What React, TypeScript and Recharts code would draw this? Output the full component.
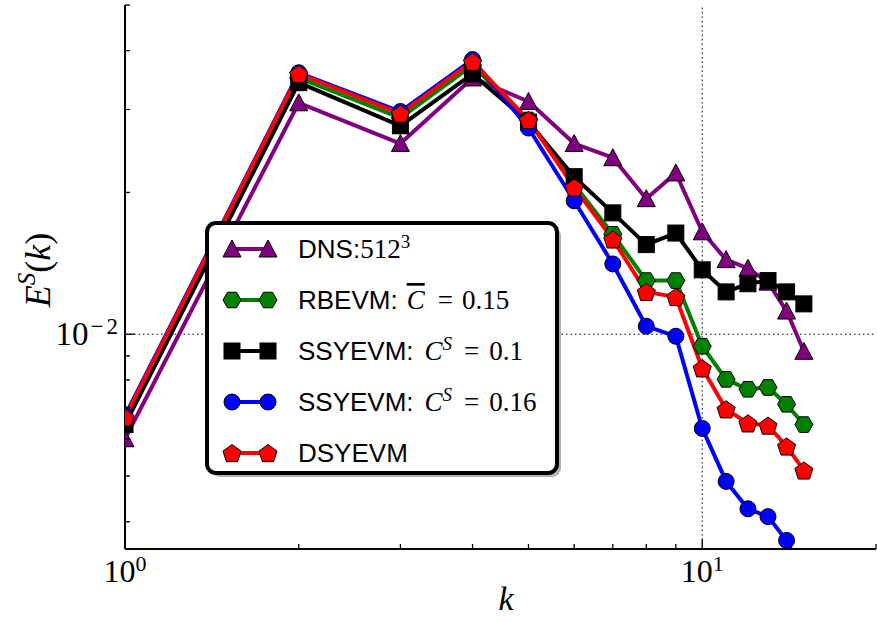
import { LineChart, Line, XAxis, YAxis, ReferenceLine, Legend } from 'recharts';

// wavenumbers
const ks = [1, 2, 3, 4, 5, 6, 7, 8, 9, 10, 11, 12, 13, 14, 15];

// spectra
const dns = [0.006, 0.031, 0.0254, 0.035, 0.0312, 0.0254, 0.0237, 0.0194, 0.022, 0.0165, 0.0144, 0.0138, 0.0129, 0.0112, 0.0092];
const rbevm = [0.00659, 0.035, 0.0288, 0.0372, 0.0285, 0.0208, 0.0163, 0.013, 0.013, 0.00943, 0.00802, 0.00764, 0.00771, 0.0071, 0.00643];
const ssyevm010 = [0.00643, 0.0342, 0.0277, 0.0357, 0.0282, 0.0216, 0.0181, 0.0155, 0.0164, 0.0137, 0.0123, 0.0128, 0.013, 0.0123, 0.0116];
const ssyevm016 = [0.00672, 0.0359, 0.0297, 0.0383, 0.0274, 0.0192, 0.0141, 0.0104, 0.0099, 0.00631, 0.00487, 0.00426, 0.0041, 0.00365, 0.0031];
const dsyevm = [0.00666, 0.0357, 0.0294, 0.0379, 0.0285, 0.0205, 0.0159, 0.0123, 0.012, 0.00847, 0.00693, 0.00647, 0.0064, 0.00578, 0.00514];

const xTicks = [1, 2, 3, 4, 5, 6, 7, 8, 9, 10, 20];
const yTicks = [0.004, 0.005, 0.006, 0.007, 0.008, 0.009, 0.01, 0.02, 0.03, 0.04, 0.05];

type Shape = 'triangle' | 'hexagon' | 'square' | 'circle' | 'pentagon';

const series: { key: string; color: string; shape: Shape }[] = [
  { key: 'dns', color: '#800080', shape: 'triangle' },
  { key: 'rbevm', color: '#008000', shape: 'hexagon' },
  { key: 'ssyevm010', color: '#000000', shape: 'square' },
  { key: 'ssyevm016', color: '#0000ff', shape: 'circle' },
  { key: 'dsyevm', color: '#ff0000', shape: 'pentagon' },
];

const data = ks.map((k, i) => ({
  k,
  dns: dns[i],
  rbevm: rbevm[i],
  ssyevm010: ssyevm010[i],
  ssyevm016: ssyevm016[i],
  dsyevm: dsyevm[i],
}));

const SERIF = '"Liberation Serif", "DejaVu Serif", serif';
const SANS = '"Liberation Sans", Arial, sans-serif';

function regular(cx: number, cy: number, r: number, n: number, rot: number) {
  const pts: string[] = [];
  for (let i = 0; i < n; i++) {
    const a = ((rot + (360 / n) * i) * Math.PI) / 180;
    pts.push(`${cx + r * Math.cos(a)},${cy + r * Math.sin(a)}`);
  }
  return pts.join(' ');
}

function Marker({ shape, cx, cy, fill }: { shape: Shape; cx: number; cy: number; fill: string }) {
  const common = { fill, stroke: '#000', strokeWidth: 1 };
  switch (shape) {
    case 'triangle':
      return <polygon points={`${cx},${cy - 9} ${cx - 9},${cy + 8} ${cx + 9},${cy + 8}`} {...common} />;
    case 'hexagon':
      return <polygon points={regular(cx, cy, 9, 6, 0)} {...common} />;
    case 'square':
      return <rect x={cx - 8} y={cy - 8} width={16} height={16} {...common} />;
    case 'circle':
      return <circle cx={cx} cy={cy} r={8} {...common} />;
    default:
      return <polygon points={regular(cx, cy + 1, 9.5, 5, -90)} {...common} />;
  }
}

const XTick = (props: any) => {
  const { x, y, payload } = props;
  const v = payload.value;
  const major = v === 1 || v === 10;
  return (
    <g>
      <line x1={x} x2={x} y1={y} y2={y - (major ? 10 : 5)} stroke="#000" strokeWidth={1.3} />
      {major && (
        <text x={x} y={y + 33} textAnchor="middle" fontFamily={SERIF} fontSize={32} fill="#000">
          10
          <tspan dy={-11} fontSize={22}>
            {v === 1 ? '0' : '1'}
          </tspan>
        </text>
      )}
    </g>
  );
};

const XTopTick = (props: any) => {
  const { x, y, payload } = props;
  const major = payload.value === 1 || payload.value === 10;
  return <line x1={x} x2={x} y1={y} y2={y + (major ? 10 : 5)} stroke="#000" strokeWidth={1.3} />;
};

const YTick = (props: any) => {
  const { x, y, payload } = props;
  const major = payload.value === 0.01;
  return (
    <g>
      <line x1={x} x2={x + (major ? 10 : 5)} y1={y} y2={y} stroke="#000" strokeWidth={1.3} />
      {major && (
        <text x={x - 7} y={y + 11} textAnchor="end" fontFamily={SERIF} fontSize={33} fill="#000">
          10
          <tspan dy={-11} dx={2} fontSize={23}>
            −
          </tspan>
          <tspan dx={3} fontSize={23}>
            2
          </tspan>
        </text>
      )}
    </g>
  );
};

const YRightTick = (props: any) => {
  const { x, y, payload } = props;
  const major = payload.value === 0.01;
  return <line x1={x} x2={x - (major ? 10 : 5)} y1={y} y2={y} stroke="#000" strokeWidth={1.3} />;
};

const XTitle = () => (
  <text x={506} y={610} textAnchor="middle" fontFamily={SERIF} fontStyle="italic" fontSize={34} fill="#000">
    k
  </text>
);

const YTitle = () => (
  <text
    x={38}
    y={270}
    transform="rotate(-90 38 270)"
    textAnchor="middle"
    dominantBaseline="central"
    fontFamily={SERIF}
    fontSize={36}
    fill="#000"
  >
    <tspan fontStyle="italic">E</tspan>
    <tspan dy={-12} fontSize={25} fontStyle="italic">
      S
    </tspan>
    <tspan dy={12}>(</tspan>
    <tspan fontStyle="italic">k</tspan>
    <tspan>)</tspan>
  </text>
);

const labels = [
  <>
    <tspan fontFamily={SANS}>DNS:</tspan>
    <tspan fontFamily={SERIF} fontSize={27}>512</tspan>
    <tspan fontFamily={SERIF} fontSize={19} dy={-10}>3</tspan>
  </>,
  <>
    <tspan fontFamily={SANS}>RBEVM:</tspan>
    <tspan dx={9} fontFamily={SERIF} fontSize={27} fontStyle="italic" textDecoration="overline">C</tspan>
    <tspan dx={13} fontFamily={SERIF} fontSize={27}>=</tspan>
    <tspan dx={9} fontFamily={SERIF} fontSize={27}>0.15</tspan>
  </>,
  <>
    <tspan fontFamily={SANS}>SSYEVM:</tspan>
    <tspan dx={11} fontFamily={SERIF} fontSize={27} fontStyle="italic">C</tspan>
    <tspan fontFamily={SERIF} fontSize={19} fontStyle="italic" dy={-10}>S</tspan>
    <tspan dx={12} fontFamily={SERIF} fontSize={27} dy={10}>=</tspan>
    <tspan dx={10} fontFamily={SERIF} fontSize={27}>0.1</tspan>
  </>,
  <>
    <tspan fontFamily={SANS}>SSYEVM:</tspan>
    <tspan dx={11} fontFamily={SERIF} fontSize={27} fontStyle="italic">C</tspan>
    <tspan fontFamily={SERIF} fontSize={19} fontStyle="italic" dy={-10}>S</tspan>
    <tspan dx={12} fontFamily={SERIF} fontSize={27} dy={10}>=</tspan>
    <tspan dx={10} fontFamily={SERIF} fontSize={27}>0.16</tspan>
  </>,
  <>
    <tspan fontFamily={SANS}>DSYEVM</tspan>
  </>,
];

// legend order differs from drawing order
const legendOrder = ['dns', 'rbevm', 'ssyevm010', 'ssyevm016', 'dsyevm'];

const LegendBox = () => (
  <svg width={365} height={265} style={{ display: 'block' }}>
    <rect x={11} y={12} width={350} height={250} rx={9} fill="#000" opacity={0.3} />
    <rect x={7} y={8} width={350} height={250} rx={9} fill="#fff" stroke="#000" strokeWidth={4} />
    {legendOrder.map((key, i) => {
      const s = series.find((d) => d.key === key)!;
      const cy = 34 + i * 51;
      return (
        <g key={key}>
          <line x1={32} x2={68} y1={cy} y2={cy} stroke={s.color} strokeWidth={4} />
          <Marker shape={s.shape} cx={32} cy={cy} fill={s.color} />
          <Marker shape={s.shape} cx={68} cy={cy} fill={s.color} />
          <text x={98} y={cy + 9} fontSize={26} fontFamily={SANS} fill="#000">
            {labels[i]}
          </text>
        </g>
      );
    })}
  </svg>
);

export default function App() {
  return (
    <div style={{ position: 'absolute', left: 0, top: 0, background: '#fff' }}>
      <LineChart width={877} height={621} data={data} margin={{ top: 5, right: 1, bottom: 0, left: 0 }}>
        <XAxis
          dataKey="k"
          type="number"
          scale="log"
          domain={[1, 20]}
          allowDataOverflow
          ticks={xTicks}
          interval={0}
          tickSize={0}
          tickMargin={0}
          tick={<XTick />}
          height={72}
          axisLine={{ stroke: '#000', strokeWidth: 2 }}
          label={<XTitle />}
        />
        <XAxis
          xAxisId="top"
          dataKey="k"
          orientation="top"
          type="number"
          scale="log"
          domain={[1, 20]}
          allowDataOverflow
          ticks={xTicks}
          interval={0}
          tickSize={0}
          tickMargin={0}
          tick={<XTopTick />}
          height={0}
          axisLine={{ stroke: '#000', strokeWidth: 2 }}
        />
        <YAxis
          type="number"
          scale="log"
          domain={[0.0035, 0.05]}
          allowDataOverflow
          ticks={yTicks}
          interval={0}
          tickSize={0}
          tickMargin={0}
          tick={<YTick />}
          width={125}
          axisLine={{ stroke: '#000', strokeWidth: 2 }}
          label={<YTitle />}
        />
        <YAxis
          yAxisId="right"
          orientation="right"
          type="number"
          scale="log"
          domain={[0.0035, 0.05]}
          allowDataOverflow
          ticks={yTicks}
          interval={0}
          tickSize={0}
          tickMargin={0}
          tick={<YRightTick />}
          width={0}
          axisLine={{ stroke: '#000', strokeWidth: 2 }}
        />
        <ReferenceLine x={10} stroke="#000" strokeWidth={1} strokeDasharray="1.5 3" />
        <ReferenceLine y={0.01} stroke="#000" strokeWidth={1} strokeDasharray="1.5 3" />
        {series.map((s) => (
          <Line
            key={s.key}
            type="linear"
            dataKey={s.key}
            stroke={s.color}
            strokeWidth={4}
            strokeLinejoin="round"
            isAnimationActive={false}
            activeDot={false}
            dot={(p: any) =>
              p.cx == null || p.cy == null ? (
                <g key={p.index} />
              ) : (
                <Marker key={p.index} shape={s.shape} cx={p.cx} cy={p.cy} fill={s.color} />
              )
            }
          />
        ))}
        <Legend
          layout="vertical"
          align="center"
          verticalAlign="middle"
          content={() => <LegendBox />}
          wrapperStyle={{ left: 200, top: 215, width: 365, height: 265 }}
        />
      </LineChart>
    </div>
  );
}
